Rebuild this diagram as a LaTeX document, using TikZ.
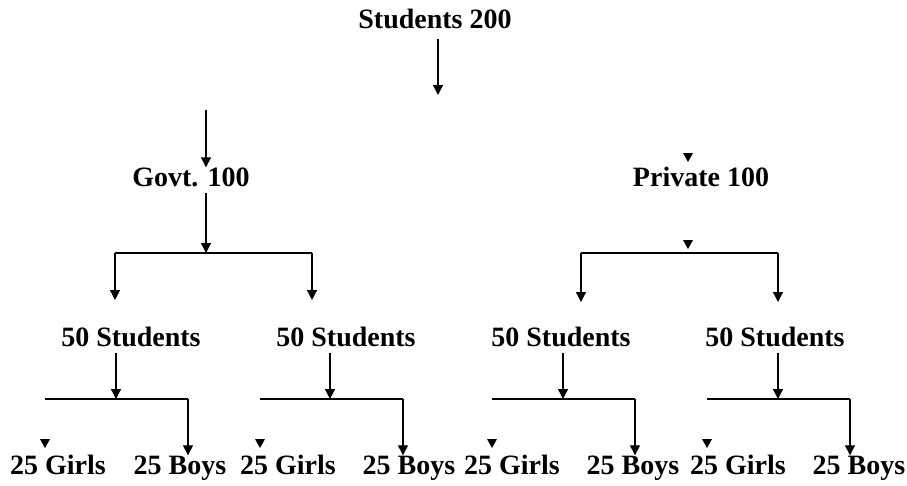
\documentclass[tikz,border=0pt]{standalone}
\usepackage{fontspec}
\setmainfont{Liberation Serif}
\usetikzlibrary{arrows.meta}

\begin{document}
\begin{tikzpicture}[x=1pt,y=-1pt,
    lbl/.style={font=\fontsize{28}{32}\selectfont\bfseries, inner sep=1pt,
                text height=18pt, text depth=5pt},
    arr/.style={line width=1.3pt, -{Triangle[length=10pt,width=10pt]}},
    bar/.style={line width=1.3pt},
    tip/.pic={\fill (-5,-9) -- (5,-9) -- (0,0) -- cycle;}]

    \useasboundingbox (0,0) rectangle (907,485);

    % top
    \node[lbl] (s200) at (435,22) {Students 200};
    \coordinate (t0) at (438,95);
    \draw[arr, shorten <=4pt] (s200.south -| t0) -- (t0);

    % govt
    \coordinate (g0) at (206,110);
    \node[lbl] (govt) at (191,180) {Govt. 100};
    \draw[arr] (g0) -- (g0 |- govt.north);
    \coordinate (gj) at (206,253);
    \draw[arr] (govt.south -| gj) -- (gj);
    \coordinate (gl) at (115,253);
    \coordinate (gr) at (312,253);
    \draw[bar] (gl) -- (gr);
    \foreach \c in {gl,gr}
             { \draw[arr] (\c) -- ++(0,47);}

    % private
    \node[lbl] (priv) at (701,180) {Private 100};
    \pic at (688,162) {tip};
    \pic at (688,249) {tip};
    \coordinate (pl) at (581,253);
    \coordinate (pr) at (778,253);
    \draw[bar] (pl) -- (pr);
    \foreach \c in {pl,pr}
             { \draw[arr] (\c) -- ++(0,49);}

    % 50 students, girls and boys
    \foreach \i/\sx/\ax/\lx/\rx/\gx/\bx in
             {1/131/116/45/188/58/180, 2/346/330/260/403/288/409,
              3/561/563/492/635/512/633, 4/775/778/707/850/738/859}
             { \node[lbl] (st\i) at (\sx,340) {50 Students};
               \coordinate (j\i) at (\ax,399);
               \coordinate (l\i) at (\lx,399);
               \coordinate (r\i) at (\rx,399);
               \draw[arr] (st\i.south -| j\i) -- (j\i);
               \draw[bar] (l\i) -- (r\i);
               \node[lbl] (girls\i) at (\gx,468) {25 Girls};
               \node[lbl] (boys\i) at (\bx,468) {25 Boys};
               \draw[arr] (r\i) -- (r\i |- boys\i.north);
               \pic at (\lx,448) {tip};}

\end{tikzpicture}
\end{document}
